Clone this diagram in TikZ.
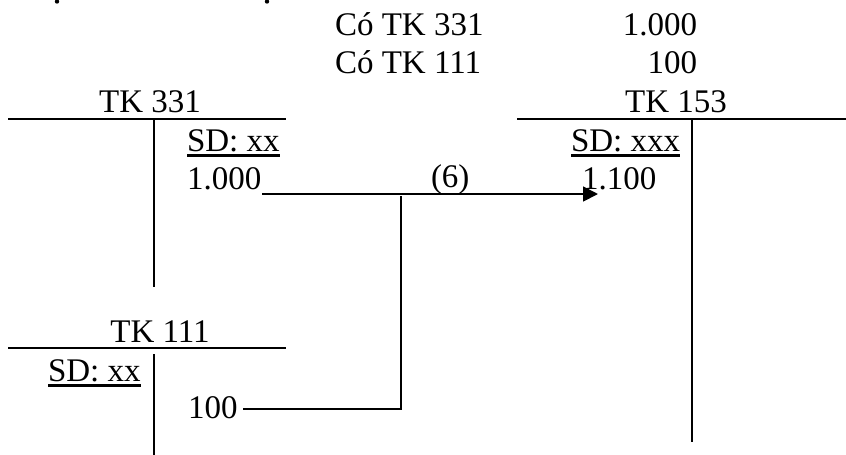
\documentclass[tikz,border=0pt]{standalone}
\usepackage{fontspec}
\setmainfont{Liberation Serif}
\usetikzlibrary{arrows.meta}
\begin{document}
\begin{tikzpicture}[x=1pt,y=-1pt,
  txt/.style={inner sep=0pt,outer sep=0pt,anchor=base west,font=\fontsize{33}{38}\selectfont},
  rule/.style={line width=1.8pt},
  conn/.style={line width=1.8pt},
  uline/.style={line width=2.2pt}]
\useasboundingbox (0,0) rectangle (846,455);
% cut-off marks at top
\fill (57,1.5) circle (2.2pt);
\fill (267,1.5) circle (2.2pt);
% journal entry lines
\node[txt] (co331) at (335,35) {Có TK 331};
\node[txt,anchor=base east] (v1000) at (697,35) {1.000};
\node[txt] (co111) at (335,73) {Có TK 111};
\node[txt,anchor=base east] (v100) at (697,73) {100};
% TK 331
\node[txt,anchor=base] (t331) at (150,112) {TK 331};
\draw[rule] (8,119) -- (286,119);
\draw[rule] (154,119) -- (154,287);
\node[txt] (sd331) at (187,151) {SD: xx};
\draw[uline] ([yshift=-4.5pt]sd331.base west) -- ([yshift=-4.5pt]sd331.base east);
\node[txt] (c1000) at (187,189) {1.000};
% TK 153
\node[txt,anchor=base] (t153) at (676,112) {TK 153};
\draw[rule] (517,119) -- (846,119);
\draw[rule] (692,119) -- (692,442);
\node[txt] (sd153) at (571,151) {SD: xxx};
\draw[uline] ([yshift=-4.5pt]sd153.base west) -- ([yshift=-4.5pt]sd153.base east);
\node[txt] (c1100) at (582,189) {1.100};
% TK 111
\node[txt,anchor=base] (t111) at (160,342) {TK 111};
\draw[rule] (8,348) -- (286,348);
\draw[rule] (154,354) -- (154,455);
\node[txt] (sd111) at (48,381) {SD: xx};
\draw[uline] ([yshift=-4.5pt]sd111.base west) -- ([yshift=-4.5pt]sd111.base east);
\node[txt] (c100) at (188,418) {100};
% connectors
\node[txt] (lab6) at (431,187) {(6)};
\coordinate (as) at (262,194);
\coordinate (ae) at (598,194);
\coordinate (j1) at (401,196);
\coordinate (j2) at (401,409);
\coordinate (ls) at (243,409);
\draw[conn,-{Triangle[length=15pt,width=15pt]}] (as) -- (ae);
\draw[conn] (ls) -- (j2) -- (j1);
\end{tikzpicture}
\end{document}
